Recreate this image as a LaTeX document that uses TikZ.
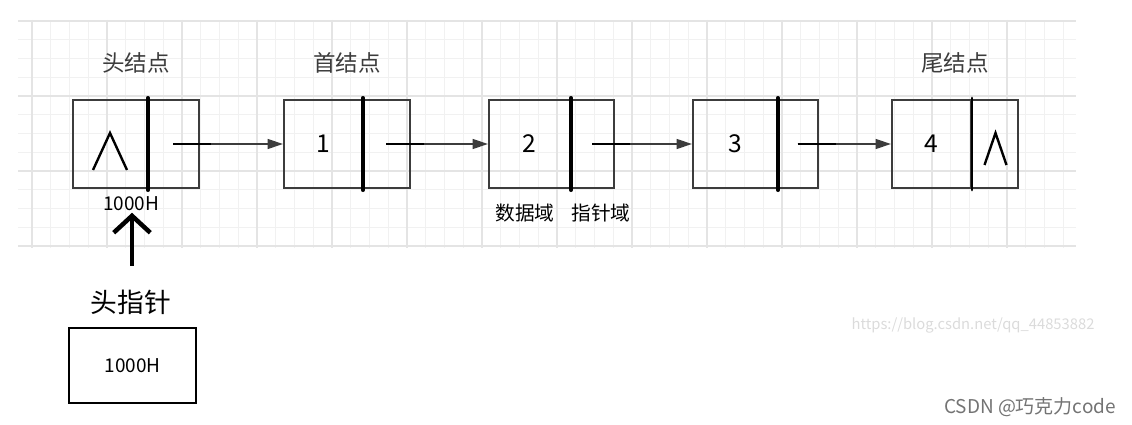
\documentclass[tikz,border=0pt]{standalone}
\usepackage{fontspec}
\setmainfont{Noto Sans CJK SC}
\usetikzlibrary{arrows.meta,positioning,calc}
\definecolor{gridminor}{RGB}{241,241,241}
\definecolor{gridmajor}{RGB}{228,228,228}
\definecolor{boxgray}{RGB}{60,60,60}
\definecolor{lblgray}{RGB}{60,60,60}

\begin{document}
\begin{tikzpicture}[x=0.025cm,y=-0.025cm,
    field/.style={rectangle,draw=boxgray,line width=1.4pt,minimum height=2.2cm,inner sep=0pt,font=\fontsize{17.5}{18}\selectfont},
    divider/.style={line width=2.9pt,line cap=round},
    link/.style={-{Triangle[length=11pt,width=7pt]},boxgray,line width=1.4pt},
    stub/.style={line width=2pt},
    nil/.style={line width=1.7pt},
    title/.style={font=\fontsize{16}{18}\selectfont,lblgray},
    note/.style={font=\fontsize{13.5}{15}\selectfont,inner sep=1pt},
    uparrow/.style={-{Straight Barb[length=12pt,width=26pt]},line width=3.2pt}]
    \useasboundingbox (0,0) rectangle (1132,425);
    % grid
    \foreach \x in {0,...,55}
      \draw[gridminor,line width=0.8pt] (32+18.75*\x,20) -- (32+18.75*\x,248);
    \foreach \y in {0,...,12}
      \draw[gridminor,line width=0.8pt] (18,21+18.75*\y) -- (1076,21+18.75*\y);
    \foreach \x in {0,...,13}
      \draw[gridmajor,line width=0.8pt] (32+75*\x,20) -- (32+75*\x,248);
    \foreach \y in {0,...,3}
      \draw[gridmajor,line width=0.8pt] (18,21+75*\y) -- (1076,21+75*\y);
    % list nodes
    \foreach \i/\xl/\xm/\xr/\val/\lw in {0/73/147/199/{}/2.9,1/284/362/410/1/2.9,2/489/570/614/2/2.9,3/693/777/818/3/2.9,4/892/971/1018/4/2} {
      \pgfmathsetmacro{\dw}{(\xm-\xl)*0.025}
      \pgfmathsetmacro{\pw}{(\xr-\xm)*0.025}
      \node[field,minimum width=\dw cm] (D\i) at ({(\xl+\xm)/2},144) {\raisebox{-2.2pt}{\val}};
      \node[field,minimum width=\pw cm] (P\i) at ({(\xm+\xr)/2},144) {};
      \draw[divider,line width=\lw pt] ($(D\i.north east)+(0,-1)$) -- ($(D\i.south east)+(0,1)$);
    }
    \foreach \i/\j in {0/1,1/2,2/3,3/4} {
      \draw[link] (P\i.center) -- (D\j.west);
      \draw[stub] (P\i.center) -- ++(38,0);
    }
    \draw[nil] ($(D0.center)+(-17,26)$) -- ($(D0.center)+(0,-11)$) -- ($(D0.center)+(17,26)$);
    \draw[nil] ($(P4.center)+(-10,21)$) -- ($(P4.center)+(1,-11)$) -- ($(P4.center)+(12,21)$);
    \node[title] (T0) at (136,63) {头结点};
    \node[title] (T1) at (347,63) {首结点};
    \node[title] (T4) at (955,63) {尾结点};
    \node[note] (HA) at (131,204) {1000H};
    \node[note,font=\fontsize{14}{15}\selectfont] (DF) at (525,213) {数据域};
    \node[note,font=\fontsize{14}{15}\selectfont] (PF) at (601,213) {指针域};
    % head pointer
    \node[font=\fontsize{19}{21}\selectfont] (HPL) at (131,302) {头指针};
    \node[draw,line width=2.1pt,minimum width=3.175cm,minimum height=1.875cm,note] (HP) at (132.5,365.5) {1000H};
    \coordinate (PT) at (132,266);
    \draw[uparrow] (PT) -- (PT |- HA.south);
    % watermarks
    \node[font=\fontsize{10.5}{12}\selectfont,black!14] (WM) at (973,325) {https://blog.csdn.net/qq\_44853882};
    \node[font=\fontsize{13.5}{15}\selectfont,black!55] (CS) at (1030,407) {CSDN @巧克力code};
\end{tikzpicture}
\end{document}
